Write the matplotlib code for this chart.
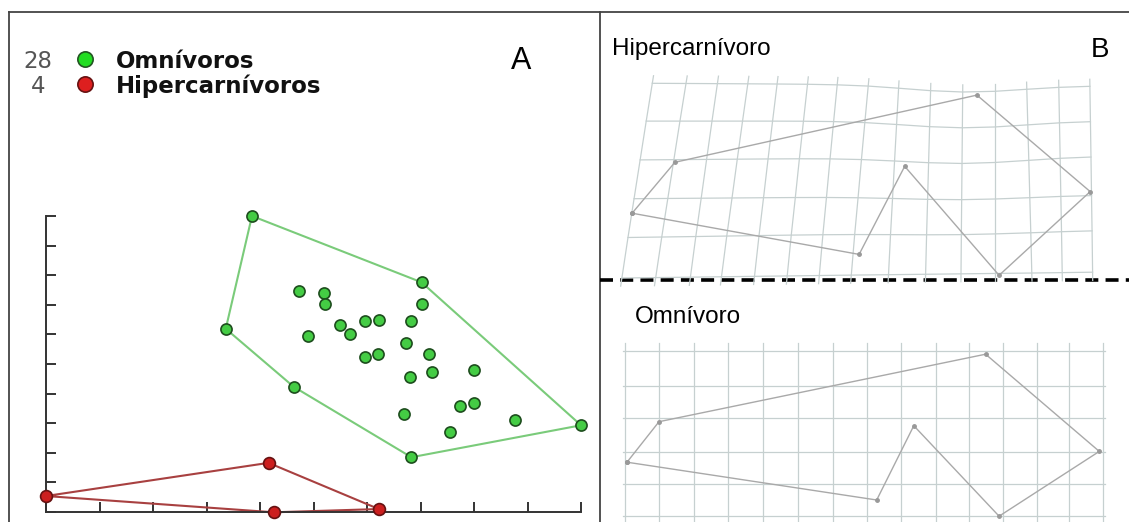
import numpy as np
import matplotlib.pyplot as plt

# Panel A: scores (x, y)
omni_x = [3.85, 7.02, 10.0, 6.83, 4.63, 3.36,
          4.73, 5.20, 5.22, 7.02, 5.49, 5.96, 6.22, 6.82, 4.89, 5.69, 6.72,
          5.96, 6.20, 7.16, 6.80, 7.22, 8.00, 7.73, 8.00, 6.69, 8.77, 7.56]
omni_y = [10.0, 7.76, 2.93, 1.85, 4.23, 6.19,
          7.47, 7.40, 7.04, 7.04, 6.32, 6.44, 6.50, 6.44, 5.96, 6.01, 5.71,
          5.25, 5.35, 5.35, 4.56, 4.74, 4.81, 3.59, 3.67, 3.30, 3.12, 2.70]
omni_hull = [0, 1, 2, 3, 4, 5, 0]

hiper_x = [0.0, 4.16, 6.22, 4.26]
hiper_y = [0.54, 1.66, 0.10, -0.01]
hiper_hull = [0, 1, 2, 3, 0]

legend_counts = ["28", "4"]
legend_names = ["Omnívoros", "Hipercarnívoros"]

# Panel B: landmark outlines (pixel positions of the drawing)
hiper_lm_x = [632.1, 674.9, 976.9, 1090.2, 999.1, 904.7, 859.1, 632.1]
hiper_lm_y = [213.2, 162.3, 95.1, 191.6, 275.3, 166.3, 254.4, 213.2]
omni_lm_x = [627.0, 659.0, 985.6, 1099.3, 999.1, 913.8, 876.7, 627.0]
omni_lm_y = [462.2, 421.7, 354.2, 451.4, 516.2, 425.7, 500.0, 462.2]

# deformed grid (hipercarnivoro)
grid_top_x = [652.3, 686.0, 717.4, 747.8, 777.1, 807.5, 837.2, 868.2,
              898.6, 930.6, 962.7, 994.7, 1026.8, 1058.8, 1089.9]
grid_bot_x = [621.9, 655.7, 690.4, 721.5, 754.5, 787.2, 819.3, 851.3,
              888.5, 925.6, 961.0, 994.7, 1031.8, 1062.2, 1092.6]
grid_left_y = [83.3, 121.1, 159.9, 198.7, 237.5, 278.0]
grid_right_y = [85.7, 121.1, 156.5, 195.3, 230.7, 272.2]
grid_dip = [7.0, 6.7, 6.0, 3.4, 2.0, 0.0]

# regular grid (omnivoro)
reg_cols = [625.3, 659.0, 693.8, 728.2, 763.0, 798.4, 832.8, 867.2,
            901.3, 935.7, 969.4, 1003.2, 1036.9, 1069.0, 1102.7]
reg_rows = [350.9, 385.6, 418.3, 452.1, 484.1, 516.2]

W, H = 1129, 522
fig = plt.figure(figsize=(W / 100, H / 100), dpi=100)
fig.patch.set_facecolor('white')

bg = fig.add_axes([0, 0, 1, 1])
bg.set_xlim(0, W)
bg.set_ylim(H, 0)
bg.axis('off')

# frame
frame_c = '#444444'
bg.plot([9, W], [12, 12], color=frame_c, lw=1.3)
bg.plot([9, 9], [12, H], color=frame_c, lw=1.3)
bg.plot([600, 600], [12, H], color=frame_c, lw=1.3)
bg.plot([600, W], [280, 280], color='black', lw=2.6, dashes=(3.6, 2.0))

# legend of panel A
row_y = [68, 93]
for k in range(2):
    bg.text(38, row_y[k], legend_counts[k], fontsize=16.5, color='#555555',
            ha='center', va='baseline', family='DejaVu Sans')
    bg.text(116, row_y[k], legend_names[k], fontsize=16.5, fontweight='bold',
            va='baseline', family='DejaVu Sans', color='#111111')
bg.plot([85], [row_y[0] - 9], 'o', ms=11, mfc='#22dd22', mec='#225522', mew=1.2)
bg.plot([85], [row_y[1] - 9], 'o', ms=11, mfc='#dd1f1f', mec='#661111', mew=1.2)
bg.text(521, 69, 'A', fontsize=22, ha='center', va='baseline',
        family='Liberation Sans')

# panel B labels
bg.text(612, 54.5, 'Hipercarnívoro', fontsize=17.5, va='baseline',
        family='Liberation Sans')
bg.text(1100, 57, 'B', fontsize=20, ha='center', va='baseline',
        family='Liberation Sans')
bg.text(635, 323, 'Omnívoro', fontsize=17.5, va='baseline',
        family='Liberation Sans')

grid_c = '#c6d0d0'
# deformed grid
n_c, n_r = len(grid_top_x), len(grid_left_y)
gx = np.zeros((n_c, n_r))
gy = np.zeros((n_c, n_r))
for i in range(n_c):
    s = i / (n_c - 1)
    for j in range(n_r):
        t = j / (n_r - 1)
        gx[i, j] = grid_top_x[i] * (1 - t) + grid_bot_x[i] * t
        gy[i, j] = (grid_left_y[j] * (1 - s) + grid_right_y[j] * s
                    + grid_dip[j] * np.exp(-((s - 0.72) / 0.18) ** 2))
for j in range(n_r):
    bg.plot(gx[:, j], gy[:, j], color=grid_c, lw=0.9)
for i in range(n_c):
    ex = 0.2
    x0 = gx[i, 0] - ex * (gx[i, 1] - gx[i, 0])
    y0 = gy[i, 0] - ex * (gy[i, 1] - gy[i, 0])
    x1 = gx[i, -1] + ex * (gx[i, -1] - gx[i, -2])
    y1 = gy[i, -1] + ex * (gy[i, -1] - gy[i, -2])
    bg.plot(np.r_[x0, gx[i, :], x1], np.r_[y0, gy[i, :], y1],
            color=grid_c, lw=0.9)

# regular grid
for r in reg_rows:
    bg.plot([reg_cols[0] - 2, reg_cols[-1] + 2], [r, r], color=grid_c, lw=0.9)
for c in reg_cols:
    bg.plot([c, c], [reg_rows[0] - 8, reg_rows[-1] + 7], color=grid_c, lw=0.9)

# landmark outlines
for lx, ly in [(hiper_lm_x, hiper_lm_y), (omni_lm_x, omni_lm_y)]:
    bg.plot(lx, ly, color='#a9a9a9', lw=1.0, marker='o', ms=2.5,
            mfc='#999999', mec='#999999')

# Panel A scatter
ax = fig.add_axes([46 / W, (H - 512) / H, (581 - 46) / W, (512 - 216) / H])
ax.patch.set_alpha(0)
ax.set_xlim(0, 10)
ax.set_ylim(0, 10)
ax.set_xticks(range(11))
ax.set_yticks(range(11))
ax.set_xticklabels([])
ax.set_yticklabels([])
for sp in ['top', 'right']:
    ax.spines[sp].set_visible(False)
for sp in ['left', 'bottom']:
    ax.spines[sp].set_color('#333333')
    ax.spines[sp].set_linewidth(1.4)
ax.tick_params(direction='in', length=7, width=1.4, color='#333333')

ox = np.array(omni_x)
oy = np.array(omni_y)
ax.plot(ox[omni_hull], oy[omni_hull], color='#7acb7a', lw=1.5, zorder=2)
ax.plot(ox, oy, 'o', ms=8, mfc='#44cc44', mec='#1d4d1d', mew=1.2,
        zorder=3, clip_on=False)

hx = np.array(hiper_x)
hy = np.array(hiper_y)
ax.plot(hx[hiper_hull], hy[hiper_hull], color='#a84040', lw=1.5, zorder=2,
        clip_on=False)
ax.plot(hx, hy, 'o', ms=8.5, mfc='#cc1f1f', mec='#661111', mew=1.2,
        zorder=3, clip_on=False)

fig.savefig('out.png', dpi=100)
